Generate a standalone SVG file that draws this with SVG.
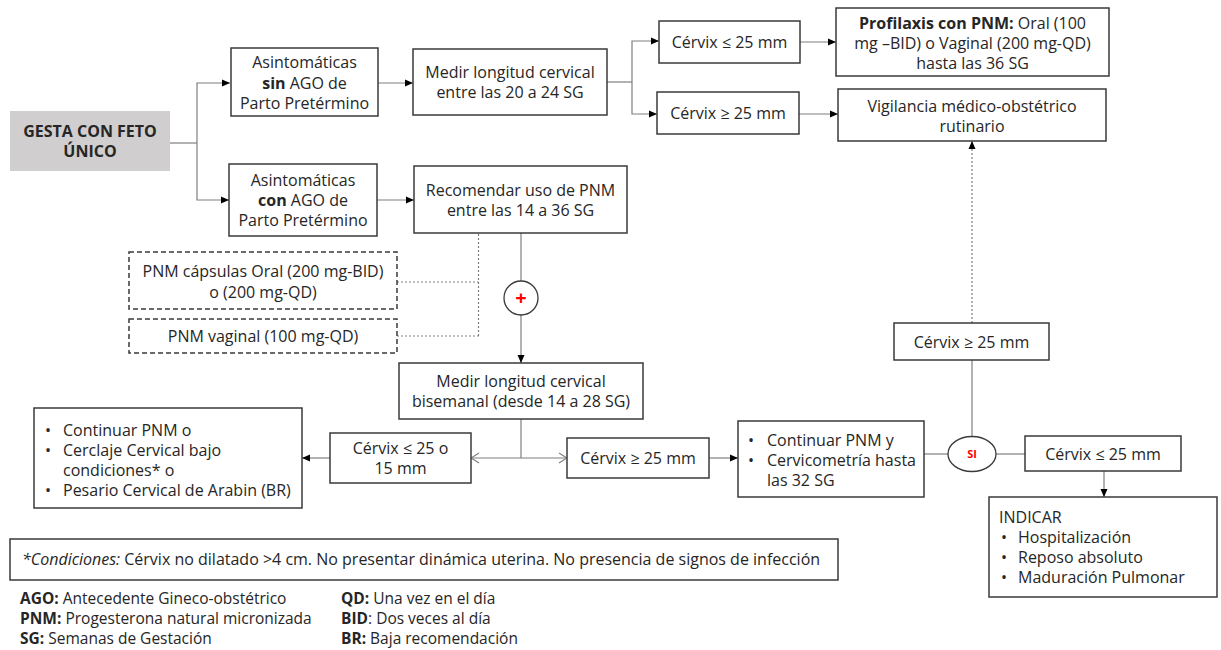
<svg xmlns="http://www.w3.org/2000/svg" width="1221" height="650" viewBox="0 0 1221 650">
<style>
.box{fill:#fff;stroke:#3a3a3a;stroke-width:1.5}
.dbox{fill:#fff;stroke:#3a3a3a;stroke-width:1.5;stroke-dasharray:5 3}
.t{font-family:"Open Sans","Noto Sans",sans-serif;font-size:16px;fill:#262626}
.lg{font-size:15.5px}
.c{text-anchor:middle}
.b{font-weight:bold}
.ln{stroke:#7f7f7f;stroke-width:1.2;fill:none}
.dot{stroke:#7f7f7f;stroke-width:1.2;fill:none;stroke-dasharray:2 2}
.arr{marker-end:url(#ah)}
.oarr{marker-end:url(#oh)}
</style>
<defs>
<marker id="ah" markerUnits="userSpaceOnUse" markerWidth="8" markerHeight="8" refX="8" refY="4" orient="auto">
<path d="M0,0.5 L8,4 L0,7.5 z" fill="#000"/>
</marker>
<marker id="oh" markerUnits="userSpaceOnUse" markerWidth="10" markerHeight="12" refX="9" refY="6" orient="auto">
<path d="M1,1 L9,6 L1,11" fill="none" stroke="#7f7f7f" stroke-width="1.2"/>
</marker>
</defs>

<g id="connectors">
<path class="ln" d="M170,143 H197"/>
<path class="ln arr" d="M197,143 V83 H230"/>
<path class="ln arr" d="M197,143 V200 H229"/>
<path class="ln arr" d="M378,83 H413"/>
<path class="ln arr" d="M377,200 H414"/>
<path class="ln" d="M607,82 H632"/>
<path class="ln arr" d="M632,82 V41 H659"/>
<path class="ln arr" d="M632,82 V114 H657"/>
<path class="ln arr" d="M800,42 H836"/>
<path class="ln arr" d="M799,114 H838"/>
<path class="ln" d="M521,233 V281"/>
<path class="ln arr" d="M521,315 V363"/>
<path class="dot" d="M478.5,234 V336 M397,282 H478.5 M397,336 H478.5"/>
<path class="ln" d="M521,419 V458"/>
<path class="ln oarr" d="M521,458 H471"/>
<path class="ln oarr" d="M521,458 H567"/>
<path class="ln arr" d="M330,458 H302"/>
<path class="ln arr" d="M709,458 H738"/>
<path class="ln" d="M924,454 H948"/>
<path class="ln" d="M996,454 H1025"/>
<path class="ln" d="M972,436.5 V360"/>
<path class="dot arr" d="M972,323 V141"/>
<path class="ln arr" d="M1104,471 V497"/>
</g>

<g id="n-gesta">
<rect x="10" y="111" width="160" height="60" fill="#d0cece"/>
<text class="t b c" x="90" y="137">GESTA CON FETO<tspan x="90" dy="20">ÚNICO</tspan></text>
</g>

<g id="n-sin-ago">
<rect class="box" x="231" y="48" width="147" height="68"/>
<text class="t c" x="304.5" y="68">Asintomáticas<tspan x="304.5" dy="20.5"><tspan class="b">sin</tspan> AGO de</tspan><tspan x="304.5" dy="20">Parto Pretérmino</tspan></text>
</g>

<g id="n-con-ago">
<rect class="box" x="229" y="164" width="148" height="72"/>
<text class="t c" x="303" y="185.5">Asintomáticas<tspan x="303" dy="20"><tspan class="b">con</tspan> AGO de</tspan><tspan x="303" dy="20">Parto Pretérmino</tspan></text>
</g>

<g id="n-medir-20-24">
<rect class="box" x="413" y="49" width="194" height="66"/>
<text class="t c" x="510" y="78">Medir longitud cervical<tspan x="510" dy="20">entre las 20 a 24 SG</tspan></text>
</g>

<g id="n-recomendar">
<rect class="box" x="414" y="166" width="213" height="67"/>
<text class="t c" x="520.5" y="196">Recomendar uso de PNM<tspan x="520.5" dy="20">entre las 14 a 36 SG</tspan></text>
</g>

<g id="n-cervix-le25-top">
<rect class="box" x="659" y="21" width="141" height="42"/>
<text class="t c" x="729.5" y="47.5">Cérvix ≤ 25 mm</text>
</g>

<g id="n-cervix-ge25-top">
<rect class="box" x="657" y="92" width="142" height="42"/>
<text class="t c" x="728" y="118.5">Cérvix ≥ 25 mm</text>
</g>

<g id="n-profilaxis">
<rect class="box" x="836" y="8" width="273" height="68"/>
<text class="t c" x="972.5" y="29"><tspan class="b">Profilaxis con PNM:</tspan> Oral (100<tspan x="972.5" dy="20">mg –BID) o Vaginal (200 mg-QD)</tspan><tspan x="972.5" dy="20">hasta las 36 SG</tspan></text>
</g>

<g id="n-vigilancia">
<rect class="box" x="838" y="89" width="268" height="52"/>
<text class="t c" x="972" y="111.5">Vigilancia médico-obstétrico<tspan x="972" dy="20">rutinario</tspan></text>
</g>

<g id="n-pnm-oral">
<rect class="dbox" x="129" y="252" width="268" height="57"/>
<text class="t c" x="263" y="277">PNM cápsulas Oral (200 mg-BID)<tspan x="263" dy="21">o (200 mg-QD)</tspan></text>
</g>

<g id="n-pnm-vaginal">
<rect class="dbox" x="129" y="319" width="268" height="34"/>
<text class="t c" x="263" y="342">PNM vaginal (100 mg-QD)</text>
</g>

<g id="n-plus">
<circle cx="521" cy="298" r="17" fill="#fff" stroke="#3a3a3a" stroke-width="1.3"/>
<text x="521" y="305" text-anchor="middle" font-family="'Open Sans',sans-serif" font-size="20" font-weight="bold" fill="#ff0000">+</text>
</g>

<g id="n-medir-bisemanal">
<rect class="box" x="399" y="363" width="244" height="56"/>
<text class="t c" x="521" y="387">Medir longitud cervical<tspan x="521" dy="20">bisemanal (desde 14 a 28 SG)</tspan></text>
</g>

<g id="n-cervix-le25-15">
<rect class="box" x="330" y="433" width="141" height="50"/>
<text class="t c" x="400.5" y="454">Cérvix ≤ 25 o<tspan x="400.5" dy="20">15 mm</tspan></text>
</g>

<g id="n-cervix-ge25-mid">
<rect class="box" x="567" y="438" width="142" height="40"/>
<text class="t c" x="638" y="463.5">Cérvix ≥ 25 mm</text>
</g>

<g id="n-continuar-cerclaje">
<rect class="box" x="34" y="408" width="268" height="100"/>
<text class="t" x="45" y="435.5">•<tspan x="45" dy="20">•</tspan><tspan x="45" dy="40">•</tspan></text>
<text class="t" x="63" y="435.5">Continuar PNM o<tspan x="63" dy="20">Cerclaje Cervical bajo</tspan><tspan x="63" dy="20">condiciones* o</tspan><tspan x="63" dy="20">Pesario Cervical de Arabin (BR)</tspan></text>
</g>

<g id="n-continuar-cervicometria">
<rect class="box" x="738" y="421" width="186" height="76"/>
<text class="t" x="748" y="445.5">•<tspan x="748" dy="20">•</tspan></text>
<text class="t" x="767" y="445.5">Continuar PNM y<tspan x="767" dy="20">Cervicometría hasta</tspan><tspan x="767" dy="20">las 32 SG</tspan></text>
</g>

<g id="n-cervix-ge25-right">
<rect class="box" x="894" y="323" width="155" height="37"/>
<text class="t c" x="971.5" y="347.5">Cérvix ≥ 25 mm</text>
</g>

<g id="n-si">
<ellipse cx="972" cy="454" rx="24" ry="17.5" fill="#fff" stroke="#3a3a3a" stroke-width="1.3"/>
<text x="972" y="458" text-anchor="middle" font-family="'Open Sans',sans-serif" font-size="11" font-weight="bold" fill="#ff0000">SI</text>
</g>

<g id="n-cervix-le25-right">
<rect class="box" x="1025" y="436" width="156" height="35"/>
<text class="t c" x="1103" y="459.5">Cérvix ≤ 25 mm</text>
</g>

<g id="n-indicar">
<rect class="box" x="989" y="497" width="228" height="100"/>
<text class="t" x="999" y="523">INDICAR</text>
<text class="t" x="1001" y="543">•<tspan x="1001" dy="20">•</tspan><tspan x="1001" dy="20">•</tspan></text>
<text class="t" x="1018" y="543">Hospitalización<tspan x="1018" dy="20">Reposo absoluto</tspan><tspan x="1018" dy="20">Maduración Pulmonar</tspan></text>
</g>

<g id="n-condiciones">
<rect class="box" x="10" y="539" width="828" height="41"/>
<text class="t" x="22" y="565"><tspan font-style="italic">*Condiciones:</tspan> Cérvix no dilatado &gt;4 cm. No presentar dinámica uterina. No presencia de signos de infección</text>
</g>

<g id="legend">
<text class="t lg" x="20" y="604"><tspan class="b">AGO:</tspan> Antecedente Gineco-obstétrico<tspan x="20" dy="20"><tspan class="b">PNM:</tspan> Progesterona natural micronizada</tspan><tspan x="20" dy="20"><tspan class="b">SG:</tspan> Semanas de Gestación</tspan></text>
<text class="t lg" x="341" y="604"><tspan class="b">QD:</tspan> Una vez en el día<tspan x="341" dy="20"><tspan class="b">BID</tspan>: Dos veces al día</tspan><tspan x="341" dy="20"><tspan class="b">BR:</tspan> Baja recomendación</tspan></text>
</g>
</svg>
